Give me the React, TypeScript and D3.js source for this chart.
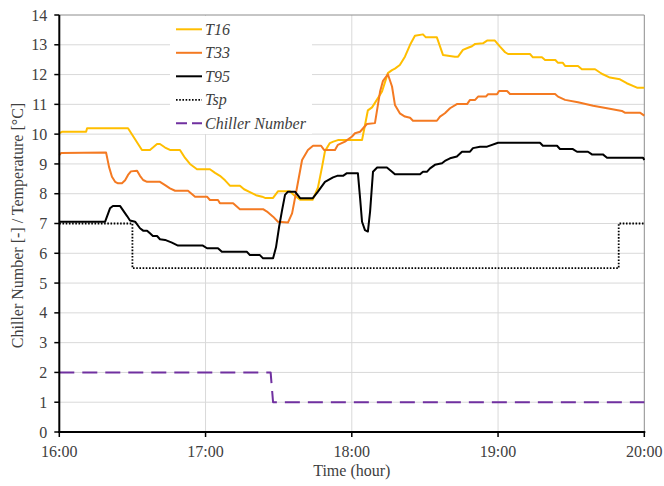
import React from "react";
import * as d3 from "d3";

// minutes after 16:00, value
const T16: [number, number][] = [
  [0, 10.03], [1.1, 10.08], [11, 10.08], [11.4, 10.2], [28.2, 10.2], [33.9, 9.47], [37.2, 9.47], [38.4, 9.55],
  [40.1, 9.67], [41.3, 9.67], [43.4, 9.55], [45.4, 9.47], [49.5, 9.47], [51.6, 9.2], [53.6, 9.0], [56.5, 8.82],
  [61.8, 8.82], [63.9, 8.7], [65.9, 8.6], [68, 8.45], [70, 8.27], [74.1, 8.27], [75.8, 8.15], [78.2, 8.05],
  [80.7, 7.95], [83.2, 7.9], [84.4, 7.86], [87.7, 7.86], [89.7, 8.08], [94.6, 8.08], [96.3, 7.95], [98.8, 7.8],
  [104, 7.8], [106.1, 8.2], [107.8, 8.9], [109, 9.43], [111, 9.7], [112.4, 9.75], [114.3, 9.8], [124.2, 9.8],
  [125.4, 10.3], [126.6, 10.8], [128.3, 10.9], [129.5, 11.05], [132.4, 11.43], [134.8, 12.05], [136.5, 12.15],
  [137.7, 12.2], [139.7, 12.32], [141.8, 12.6], [143.9, 13.0], [145.9, 13.3], [149.2, 13.35], [150.4, 13.25],
  [154.9, 13.25], [157.4, 12.66], [162.3, 12.6], [163.6, 12.6], [165.6, 12.83], [167.7, 12.9], [169.3, 12.95],
  [170.6, 13.03], [173.8, 13.05], [175.5, 13.14], [178.7, 13.14], [180.8, 12.94], [182.9, 12.75], [184.1, 12.69],
  [193.1, 12.69], [194.3, 12.58], [198, 12.58], [199.3, 12.49], [203.5, 12.49], [204.5, 12.4], [206.5, 12.4],
  [207.5, 12.29], [212.8, 12.29], [214.4, 12.18], [219.8, 12.18], [221.8, 12.07], [223, 12.01], [225.9, 11.9],
  [230, 11.84], [232.8, 11.71], [237, 11.56], [240, 11.56],
];

const T33: [number, number][] = [
  [0, 9.3], [0.8, 9.37], [19.2, 9.38], [20.4, 8.9], [21.6, 8.57], [22.9, 8.4], [24.1, 8.35], [25.7, 8.35],
  [27, 8.45], [28.2, 8.63], [29.4, 8.75], [31.9, 8.77], [33.1, 8.6], [34.4, 8.46], [36, 8.4], [41.3, 8.4],
  [43.4, 8.29], [45.4, 8.18], [47.5, 8.1], [52.8, 8.1], [55.7, 7.9], [60.6, 7.9], [61.8, 7.79], [65.1, 7.79],
  [65.9, 7.68], [71.3, 7.68], [74.1, 7.48], [83.6, 7.48], [85.2, 7.4], [87.7, 7.23], [89.7, 7.06], [93.8, 7.03],
  [95.5, 7.34], [97.5, 8.2], [99.6, 9.13], [102, 9.47], [104.1, 9.61], [107.4, 9.61], [108.6, 9.47], [113.1, 9.47],
  [114.3, 9.64], [117.2, 9.75], [120.1, 9.92], [121.3, 10.03], [123.4, 10.08], [126.2, 10.34], [129.5, 10.37],
  [131.6, 11.43], [132.8, 11.79], [134.8, 12.01], [136.5, 11.6], [137.7, 10.98], [139.7, 10.7], [141.8, 10.59],
  [143.9, 10.55], [145.1, 10.45], [154.9, 10.45], [156.2, 10.59], [158.2, 10.7], [160.3, 10.87], [163.1, 11.01],
  [167.3, 11.01], [168.5, 11.15], [170.6, 11.15], [171.8, 11.26], [175, 11.26], [175.9, 11.34], [179.6, 11.34],
  [180.4, 11.45], [183.7, 11.45], [184.9, 11.35], [203.4, 11.35], [204.6, 11.26], [207.5, 11.15], [212.8, 11.07],
  [219, 10.95], [224.7, 10.87], [230.8, 10.78], [232, 10.72], [238.2, 10.72], [240, 10.62],
];

const T95: [number, number][] = [
  [0, 7.06], [18.8, 7.06], [20.8, 7.51], [22, 7.59], [24.9, 7.59], [27.8, 7.25], [29, 7.1], [31.1, 7.06],
  [33.1, 6.84], [34.4, 6.76], [36, 6.76], [37.2, 6.67], [38.4, 6.58], [40.1, 6.58], [41.3, 6.47], [43.4, 6.45],
  [46.2, 6.36], [48.7, 6.26], [58.9, 6.26], [60.6, 6.17], [65.1, 6.17], [66.7, 6.05], [77, 6.05], [78.2, 5.94],
  [82.3, 5.94], [83.6, 5.83], [87.7, 5.83], [88.9, 6.2], [90.2, 6.9], [91.4, 7.45], [92.6, 7.96], [93.8, 8.07],
  [96.7, 8.07], [98.8, 7.85], [104, 7.85], [106.1, 8.07], [109, 8.4], [112.3, 8.55], [114, 8.6], [116.4, 8.6],
  [118, 8.69], [122.5, 8.69], [123.4, 7.85], [124.2, 7.06], [125.4, 6.78], [126.6, 6.73], [127.5, 7.4],
  [128.7, 8.74], [130.4, 8.88], [134.4, 8.88], [136.5, 8.74], [137.7, 8.65], [148, 8.65], [149.2, 8.74],
  [150.9, 8.74], [152.1, 8.85], [154.1, 8.97], [157, 9.02], [158.2, 9.1], [160.3, 9.19], [163.1, 9.25],
  [165.2, 9.41], [168.5, 9.41], [169.7, 9.53], [172.6, 9.58], [175.5, 9.58], [180, 9.71], [197.2, 9.71],
  [198.4, 9.61], [204.2, 9.61], [205.4, 9.5], [210.7, 9.5], [212.4, 9.41], [216.9, 9.41], [218.5, 9.32],
  [223, 9.32], [224.7, 9.21], [239.5, 9.21], [240, 9.13],
];

const TSP: [number, number][] = [[0, 7], [30, 7], [30, 5.5], [229.5, 5.5], [229.5, 7], [240, 7]];
const CHILLER: [number, number][] = [[0, 2], [86.7, 2], [87.7, 1], [240, 1]];

const X_TICKS = [0, 60, 120, 180, 240];
const X_TICK_LABELS = ["16:00", "17:00", "18:00", "19:00", "20:00"];
const Y_TICKS = d3.range(0, 15);

const SERIES_NAMES = ["T16", "T33", "T95", "Tsp", "Chiller Number"];

export default function App() {
  const x = d3.scaleLinear().domain([0, 240]).range([59.3, 644.3]);
  const y = d3.scaleLinear().domain([0, 14]).range([432, 15]);
  const line = d3.line<[number, number]>().x((d) => x(d[0])).y((d) => y(d[1]));

  const series = [
    { name: SERIES_NAMES[0], data: T16, color: "#FFBE00", width: 2, dash: undefined as string | undefined },
    { name: SERIES_NAMES[1], data: T33, color: "#F47A22", width: 2, dash: undefined },
    { name: SERIES_NAMES[2], data: T95, color: "#000000", width: 2, dash: undefined },
    { name: SERIES_NAMES[3], data: TSP, color: "#000000", width: 1.8, dash: "1.6,1.6" },
    { name: SERIES_NAMES[4], data: CHILLER, color: "#7030A0", width: 2, dash: "15,8" },
  ];

  const font = "Liberation Serif, Tinos, Times New Roman, DejaVu Serif, serif";
  const textColor = "#404040";
  const [xl, xr] = x.range();
  const [yb, yt] = y.range();

  return (
    <svg width={664} height={486} style={{ position: "absolute", left: 0, top: 0, background: "#fff" }}>
      <rect x={0} y={0} width={664} height={486} fill="#fff" />
      {Y_TICKS.filter((t) => t > 0 && t < 14).map((t) => (
        <line key={"gy" + t} x1={xl} x2={xr} y1={y(t)} y2={y(t)} stroke="#d9d9d9" strokeWidth={1} />
      ))}
      {X_TICKS.filter((t) => t > 0 && t < 240).map((t) => (
        <line key={"gx" + t} x1={x(t)} x2={x(t)} y1={yb} y2={yt} stroke="#d9d9d9" strokeWidth={1} />
      ))}
      <rect x={170} y={16} width={142} height={118} fill="#fff" />
      <line x1={xl} x2={xr} y1={yt} y2={yt} stroke="#8c8c8c" strokeWidth={1} />
      <line x1={xr} x2={xr} y1={yt} y2={yb} stroke="#8c8c8c" strokeWidth={1} />
      {series.map((s) => (
        <path key={s.name} d={line(s.data) || ""} fill="none" stroke={s.color} strokeWidth={s.width}
          strokeDasharray={s.dash} strokeLinejoin="round" />
      ))}
      <line x1={xl} x2={xl} y1={yt} y2={yb + 1} stroke="#000" strokeWidth={2} />
      <line x1={xl - 1} x2={xr + 1} y1={yb} y2={yb} stroke="#000" strokeWidth={2} />
      {Y_TICKS.map((t) => (
        <g key={"yt" + t}>
          <line x1={xl - 5} x2={xl} y1={y(t)} y2={y(t)} stroke="#000" strokeWidth={1.5} />
          <text x={xl - 12} y={y(t)} dy="0.35em" textAnchor="end" fontFamily={font} fontSize={16} fill={textColor}>
            {t}
          </text>
        </g>
      ))}
      {X_TICKS.map((t, i) => (
        <g key={"xt" + t}>
          <line x1={x(t)} x2={x(t)} y1={yb} y2={yb + 5} stroke="#000" strokeWidth={1.5} />
          <text x={x(t)} y={yb + 24.5} textAnchor="middle" fontFamily={font} fontSize={16} fill={textColor}>
            {X_TICK_LABELS[i]}
          </text>
        </g>
      ))}
      <text x={(xl + xr) / 2} y={475.5} textAnchor="middle" fontFamily={font} fontSize={16} fill={textColor}>
        Time (hour)
      </text>
      <text transform={`translate(23,${(yb + yt) / 2 + 2}) rotate(-90)`} textAnchor="middle" fontFamily={font}
        fontSize={16} fill={textColor}>
        Chiller Number [-] / Temperature [°C]
      </text>
      {series.map((s, i) => {
        const ly = 29.3 + i * 23.5;
        return (
          <g key={"lg" + s.name}>
            <line x1={176} x2={202} y1={ly} y2={ly} stroke={s.color} strokeWidth={s.width}
              strokeDasharray={s.name === "Chiller Number" ? "11,5" : s.dash} />
            <text x={205} y={ly} dy="0.35em" fontFamily={font} fontStyle="italic" fontSize={16} fill={textColor}>
              {s.name}
            </text>
          </g>
        );
      })}
    </svg>
  );
}
